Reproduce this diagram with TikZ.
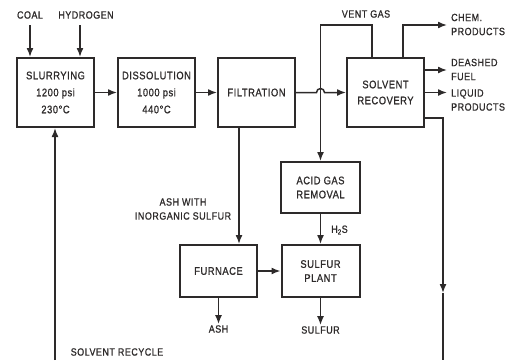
\documentclass[tikz,border=0pt]{standalone}
\usepackage{fontspec}
\setmainfont[LetterSpace=5,FakeStretch=0.85,FakeBold=1]{Liberation Sans}
\usetikzlibrary{arrows.meta,calc}
\definecolor{ink}{RGB}{45,42,42}
\begin{document}
\begin{tikzpicture}[x=1pt,y=1pt,
  every node/.style={text=ink},
  box/.style={draw=ink, line width=2pt, minimum width=77pt, minimum height=69pt, align=center, inner sep=0pt,
    font=\fontsize{11}{16}\selectfont},
  box3/.style={box, font=\fontsize{11}{17}\selectfont},
  lbl/.style={font=\fontsize{10.5}{14}\selectfont, inner sep=1pt, align=center},
  conn/.style={draw=ink, line width=1.5pt},
  arr/.style={conn, -{Latex[length=9pt,width=7pt]}}
]
\useasboundingbox (0,0) rectangle (511,360);
% boxes
\node[box3] (slur) at (55.5,267.5) {SLURRYING\\1200 psi\\230°C};
\node[box3] (diss) at (156.5,267.5) {DISSOLUTION\\1000 psi\\440°C};
\node[box] (filt) at (256.5,267.5) {FILTRATION};
\node[box] (solv) at (385.5,267.5) {SOLVENT\\RECOVERY};
\node[box, minimum width=79pt, minimum height=51pt, font=\fontsize{11}{14}\selectfont] (acid) at (320.5,172.5) {ACID GAS\\REMOVAL};
\node[box, minimum height=52pt] (furn) at (218.5,89) {FURNACE};
\node[box, minimum width=78pt, minimum height=52pt, font=\fontsize{11}{14}\selectfont] (sulf) at (320.5,89) {SULFUR\\PLANT};
% labels
\node[lbl] (coallbl) at (30,345) {COAL};
\node[lbl] (h2lbl) at (86,345) {HYDROGEN};
\node[lbl] (ventlbl) at (366,346) {VENT GAS};
\node[lbl, align=left, anchor=west] (chemlbl) at (450,335.5) {CHEM.\\PRODUCTS};
\node[lbl, align=left, anchor=west] (deashlbl) at (450,290.5) {DEASHED\\FUEL};
\node[lbl, align=left, anchor=west] (liqlbl) at (450,260) {LIQUID\\PRODUCTS};
\node[lbl] (ashwlbl) at (183,151) {ASH WITH\\INORGANIC SULFUR};
\node[lbl] (h2slbl) at (339.5,130) {H\textsubscript{2}S};
\node[lbl] (ashlbl) at (218.5,31) {ASH};
\node[lbl] (sulflbl) at (320.5,30) {SULFUR};
\node[lbl] (reclbl) at (117,8) {SOLVENT RECYCLE};
% coordinates
\coordinate (coal) at (30,335);
\coordinate (hyd) at (80,335);
\coordinate (vt) at (372,335);
\coordinate (ct) at (403,335);
\coordinate (chemend) at (447,335);
\coordinate (dfe) at (447,290);
\coordinate (lqe) at (447,267.5);
\coordinate (rt) at (443,242);
\coordinate (rm) at (443,67);
\coordinate (rb) at (443,0);
\coordinate (rcb) at (55,0);
\coordinate (fx) at (239,0);
% connectors
\draw[arr] (coal) -- (slur.north -| coal);
\draw[arr] (hyd) -- (slur.north -| hyd);
\draw[arr] (slur) -- (diss);
\draw[arr] (diss) -- (filt);
\draw[arr] (filt.east) -- ($(acid.north |- filt.east)+(-4,0)$) arc[start angle=180,end angle=0,radius=4] -- (solv.west);
\draw[arr] (solv.north -| vt) |- (acid.north |- vt) -- (acid.north);
\draw[arr] (solv.north -| ct) |- (chemend);
\draw[arr] (solv.east |- dfe) -- (dfe);
\draw[arr] (solv.east) -- (lqe);
\draw[arr] (solv.east |- rt) -- (rt) -- (rm);
\draw[conn] (rm) -- (rb);
\draw[arr] (rcb) -- (slur.south -| rcb);
\draw[arr] (filt.south -| fx) -- (furn.north -| fx);
\draw[arr] (acid.south) -- (sulf.north);
\draw[arr] (furn.east) -- (sulf.west);
\draw[arr] (furn.south) -- (ashlbl.north);
\draw[arr] (sulf.south) -- (sulflbl.north);
\end{tikzpicture}
\end{document}
